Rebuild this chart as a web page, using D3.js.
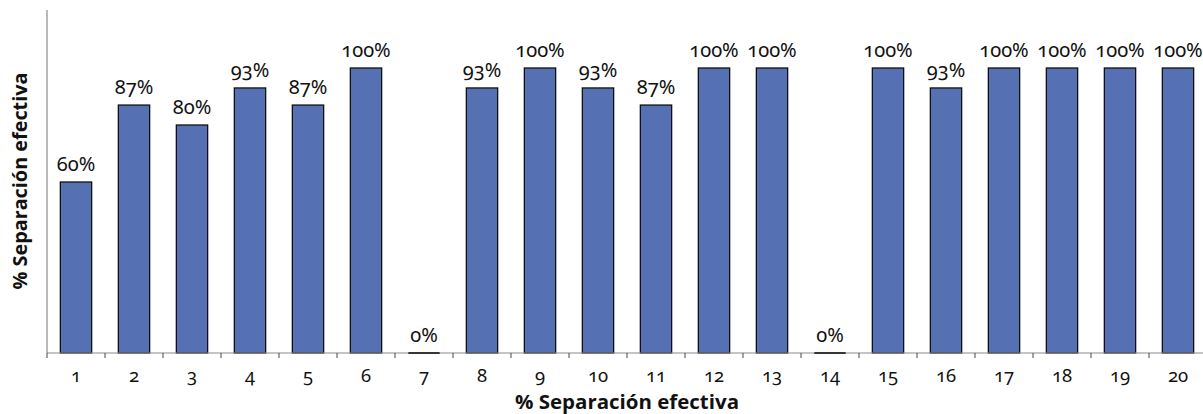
<!DOCTYPE html>
<html>
<head>
<meta charset="utf-8">
<script src="https://cdn.jsdelivr.net/npm/d3@7"></script>
<style>
  html, body { margin: 0; padding: 0; background: #fff; }
  svg { display: block; }
  .num { font-family: "Noto Sans", "Open Sans", sans-serif; font-variant-numeric: oldstyle-nums; font-feature-settings: "onum" 1; }
  .title { font-family: "Open Sans", "Noto Sans", sans-serif; font-weight: bold; }
</style>
</head>
<body>
<svg id="chart" width="1203" height="414"></svg>
<script>
// Ensayos 1–20 y su porcentaje de separación efectiva
const categories = ["1","2","3","4","5","6","7","8","9","10","11","12","13","14","15","16","17","18","19","20"];
const values = [60, 87, 80, 93, 87, 100, 0, 93, 100, 93, 87, 100, 100, 0, 100, 93, 100, 100, 100, 100];
const axisTitle = "% Separación efectiva";

const svg = d3.select("#chart");
const W = 1203, H = 414;
const plotLeft = 47, plotRight = 1207, plotTop = 11, plotBottom = 353;

const x = d3.scaleBand().domain(categories).range([plotLeft, plotRight]).paddingInner(0.46).paddingOuter(0.23);
const y = d3.scaleLinear().domain([0, 120]).range([plotBottom, plotTop]);

// Eje vertical (sin marcas)
svg.append("line")
  .attr("x1", plotLeft).attr("x2", plotLeft)
  .attr("y1", plotTop - 1).attr("y2", plotBottom)
  .attr("stroke", "#8a8a8a").attr("stroke-width", 1.2);

// Barras
svg.append("g").selectAll("rect")
  .data(values)
  .join("rect")
  .attr("x", (d, i) => x(categories[i]))
  .attr("y", d => y(d))
  .attr("width", x.bandwidth())
  .attr("height", d => plotBottom - y(d))
  .attr("fill", "#5670B4")
  .attr("stroke", "#111")
  .attr("stroke-width", 1.3);

// Eje horizontal con marcas entre categorías
svg.append("line")
  .attr("x1", plotLeft).attr("x2", W)
  .attr("y1", plotBottom).attr("y2", plotBottom)
  .attr("stroke", "#8a8a8a").attr("stroke-width", 1.2);

// Barras de valor 0: trazo sobre la línea base
svg.append("g").selectAll("line")
  .data(values.map((v, i) => ({ v, c: categories[i] })).filter(d => d.v === 0))
  .join("line")
  .attr("x1", d => x(d.c)).attr("x2", d => x(d.c) + x.bandwidth())
  .attr("y1", d => y(d.v)).attr("y2", d => y(d.v))
  .attr("stroke", "#111").attr("stroke-width", 1.6);

const step = x.step();
const tickPos = d3.range(categories.length).map(i => plotLeft + i * step);
svg.append("g").selectAll("line")
  .data(tickPos)
  .join("line")
  .attr("x1", d => d).attr("x2", d => d)
  .attr("y1", plotBottom).attr("y2", plotBottom + 5)
  .attr("stroke", "#444").attr("stroke-width", 1);

// Etiquetas de categoría
svg.append("g").selectAll("text")
  .data(categories)
  .join("text")
  .attr("class", "num")
  .attr("x", d => x(d) + x.bandwidth() / 2)
  .attr("y", 382)
  .attr("text-anchor", "middle")
  .attr("font-size", 18.5)
  .attr("fill", "#111")
  .text(d => d);

// Etiquetas de valor
svg.append("g").selectAll("text")
  .data(values)
  .join("text")
  .attr("class", "num")
  .attr("x", (d, i) => x(categories[i]) + x.bandwidth() / 2)
  .attr("y", d => y(d) - 11)
  .attr("text-anchor", "middle")
  .attr("font-size", 20)
  .attr("fill", "#111")
  .text(d => d + "%");

// Títulos de los ejes
svg.append("text")
  .attr("class", "title")
  .attr("x", 627).attr("y", 409)
  .attr("text-anchor", "middle")
  .attr("font-size", 20)
  .attr("textLength", 224)
  .attr("lengthAdjust", "spacingAndGlyphs")
  .attr("fill", "#111")
  .text(axisTitle);

svg.append("text")
  .attr("class", "title")
  .attr("transform", "translate(27,181) rotate(-90)")
  .attr("text-anchor", "middle")
  .attr("font-size", 20)
  .attr("textLength", 217)
  .attr("lengthAdjust", "spacingAndGlyphs")
  .attr("fill", "#111")
  .text(axisTitle);
</script>
</body>
</html>
